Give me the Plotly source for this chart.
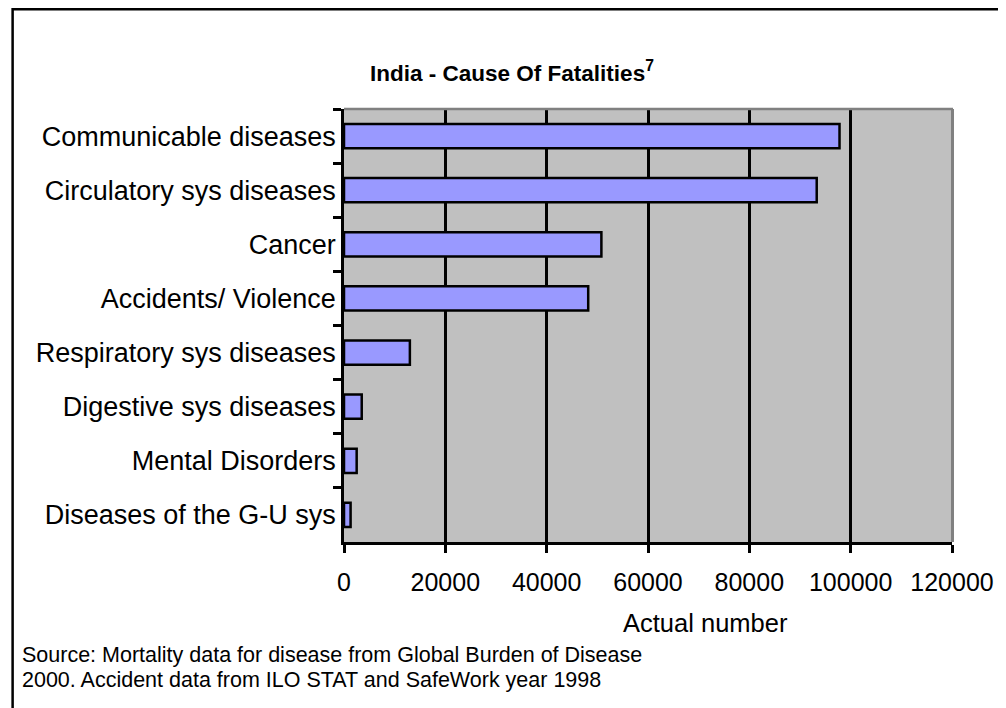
import plotly.graph_objects as go

categories = ["Communicable diseases", "Circulatory sys diseases", "Cancer",
              "Accidents/ Violence", "Respiratory sys diseases", "Digestive sys diseases",
              "Mental Disorders", "Diseases of the G-U sys"]
values = [97800, 93300, 50800, 48200, 13000, 3500, 2500, 1300]
x_ticks = [0, 20000, 40000, 60000, 80000, 100000, 120000]

FONT = "Liberation Sans, Arial, sans-serif"
OFF = 8  # page body margin
W, H = 1006 - OFF, 708 - OFF
PL, PR, PT, PB = 344, 959, 109, 542  # plot area in screen pixels
L, T = PL - OFF, PT - OFF
R, B = W - (PR - OFF), H - (PB - OFF)
pw, ph = PR - PL, PB - PT


def px(x):
    return (x - PL) / pw


def py(y):
    return (PB - y) / ph


fig = go.Figure(go.Bar(
    x=values, y=categories, orientation="h", width=0.45,
    marker=dict(color="#9999FF", line=dict(color="black", width=2.5)),
))

fig.update_layout(
    width=W, height=H,
    margin=dict(l=L, r=R, t=T, b=B, pad=0),
    paper_bgcolor="white", plot_bgcolor="#C0C0C0",
    font=dict(family=FONT, size=25, color="black"),
    showlegend=False,
    title=dict(text="<b>India - Cause Of Fatalities<sup>7</sup></b>",
               font=dict(family=FONT, size=22.5, color="black"),
               xref="container", yref="container",
               x=(512 - OFF) / W, y=1 - (73 - OFF) / H,
               xanchor="center", yanchor="middle"),
    xaxis=dict(range=[0, 120000], tickvals=x_ticks, ticktext=[str(v) for v in x_ticks],
               showgrid=True, gridcolor="black", gridwidth=2.5, zeroline=False,
               showline=True, linecolor="black", linewidth=2.5,
               ticks="outside", ticklen=8, tickwidth=2.5, tickcolor="black",
               ticklabelstandoff=8, tickfont=dict(size=25)),
    yaxis=dict(categoryorder="array", categoryarray=categories, autorange="reversed",
               showgrid=False, zeroline=False,
               showline=True, linecolor="black", linewidth=2.5,
               ticks="outside", ticklen=8, tickwidth=2.5, tickcolor="black",
               tickson="boundaries", tickfont=dict(size=27)),
    bargap=0.55,
)

fig.add_annotation(text="Actual number", xref="paper", yref="paper",
                   x=px(710), y=py(623), showarrow=False,
                   xanchor="center", yanchor="middle", font=dict(size=25.5))
fig.add_annotation(text="Source: Mortality data for disease from Global Burden of Disease",
                   xref="paper", yref="paper", x=px(16), y=py(655), showarrow=False,
                   xanchor="left", yanchor="middle", align="left", font=dict(size=21.5))
fig.add_annotation(text="2000. Accident data from ILO STAT and SafeWork year 1998",
                   xref="paper", yref="paper", x=px(16), y=py(680), showarrow=False,
                   xanchor="left", yanchor="middle", align="left", font=dict(size=21.5))

# plot-area frame (grey top and right edges)
fig.add_shape(type="line", xref="paper", yref="paper", x0=0, x1=px(960), y0=1, y1=1,
              line=dict(color="#808080", width=2.5))
fig.add_shape(type="line", xref="paper", yref="paper", x0=px(959.5), x1=px(959.5), y0=0, y1=1,
              line=dict(color="#808080", width=3))
# outer chart border (left and top visible)
fig.add_shape(type="rect", xref="paper", yref="paper",
              x0=px(OFF + 0.8), x1=px(1030), y0=py(OFF + 1.3), y1=py(730),
              line=dict(color="black", width=2.5), fillcolor="rgba(0,0,0,0)")

fig.write_html("out.html")
